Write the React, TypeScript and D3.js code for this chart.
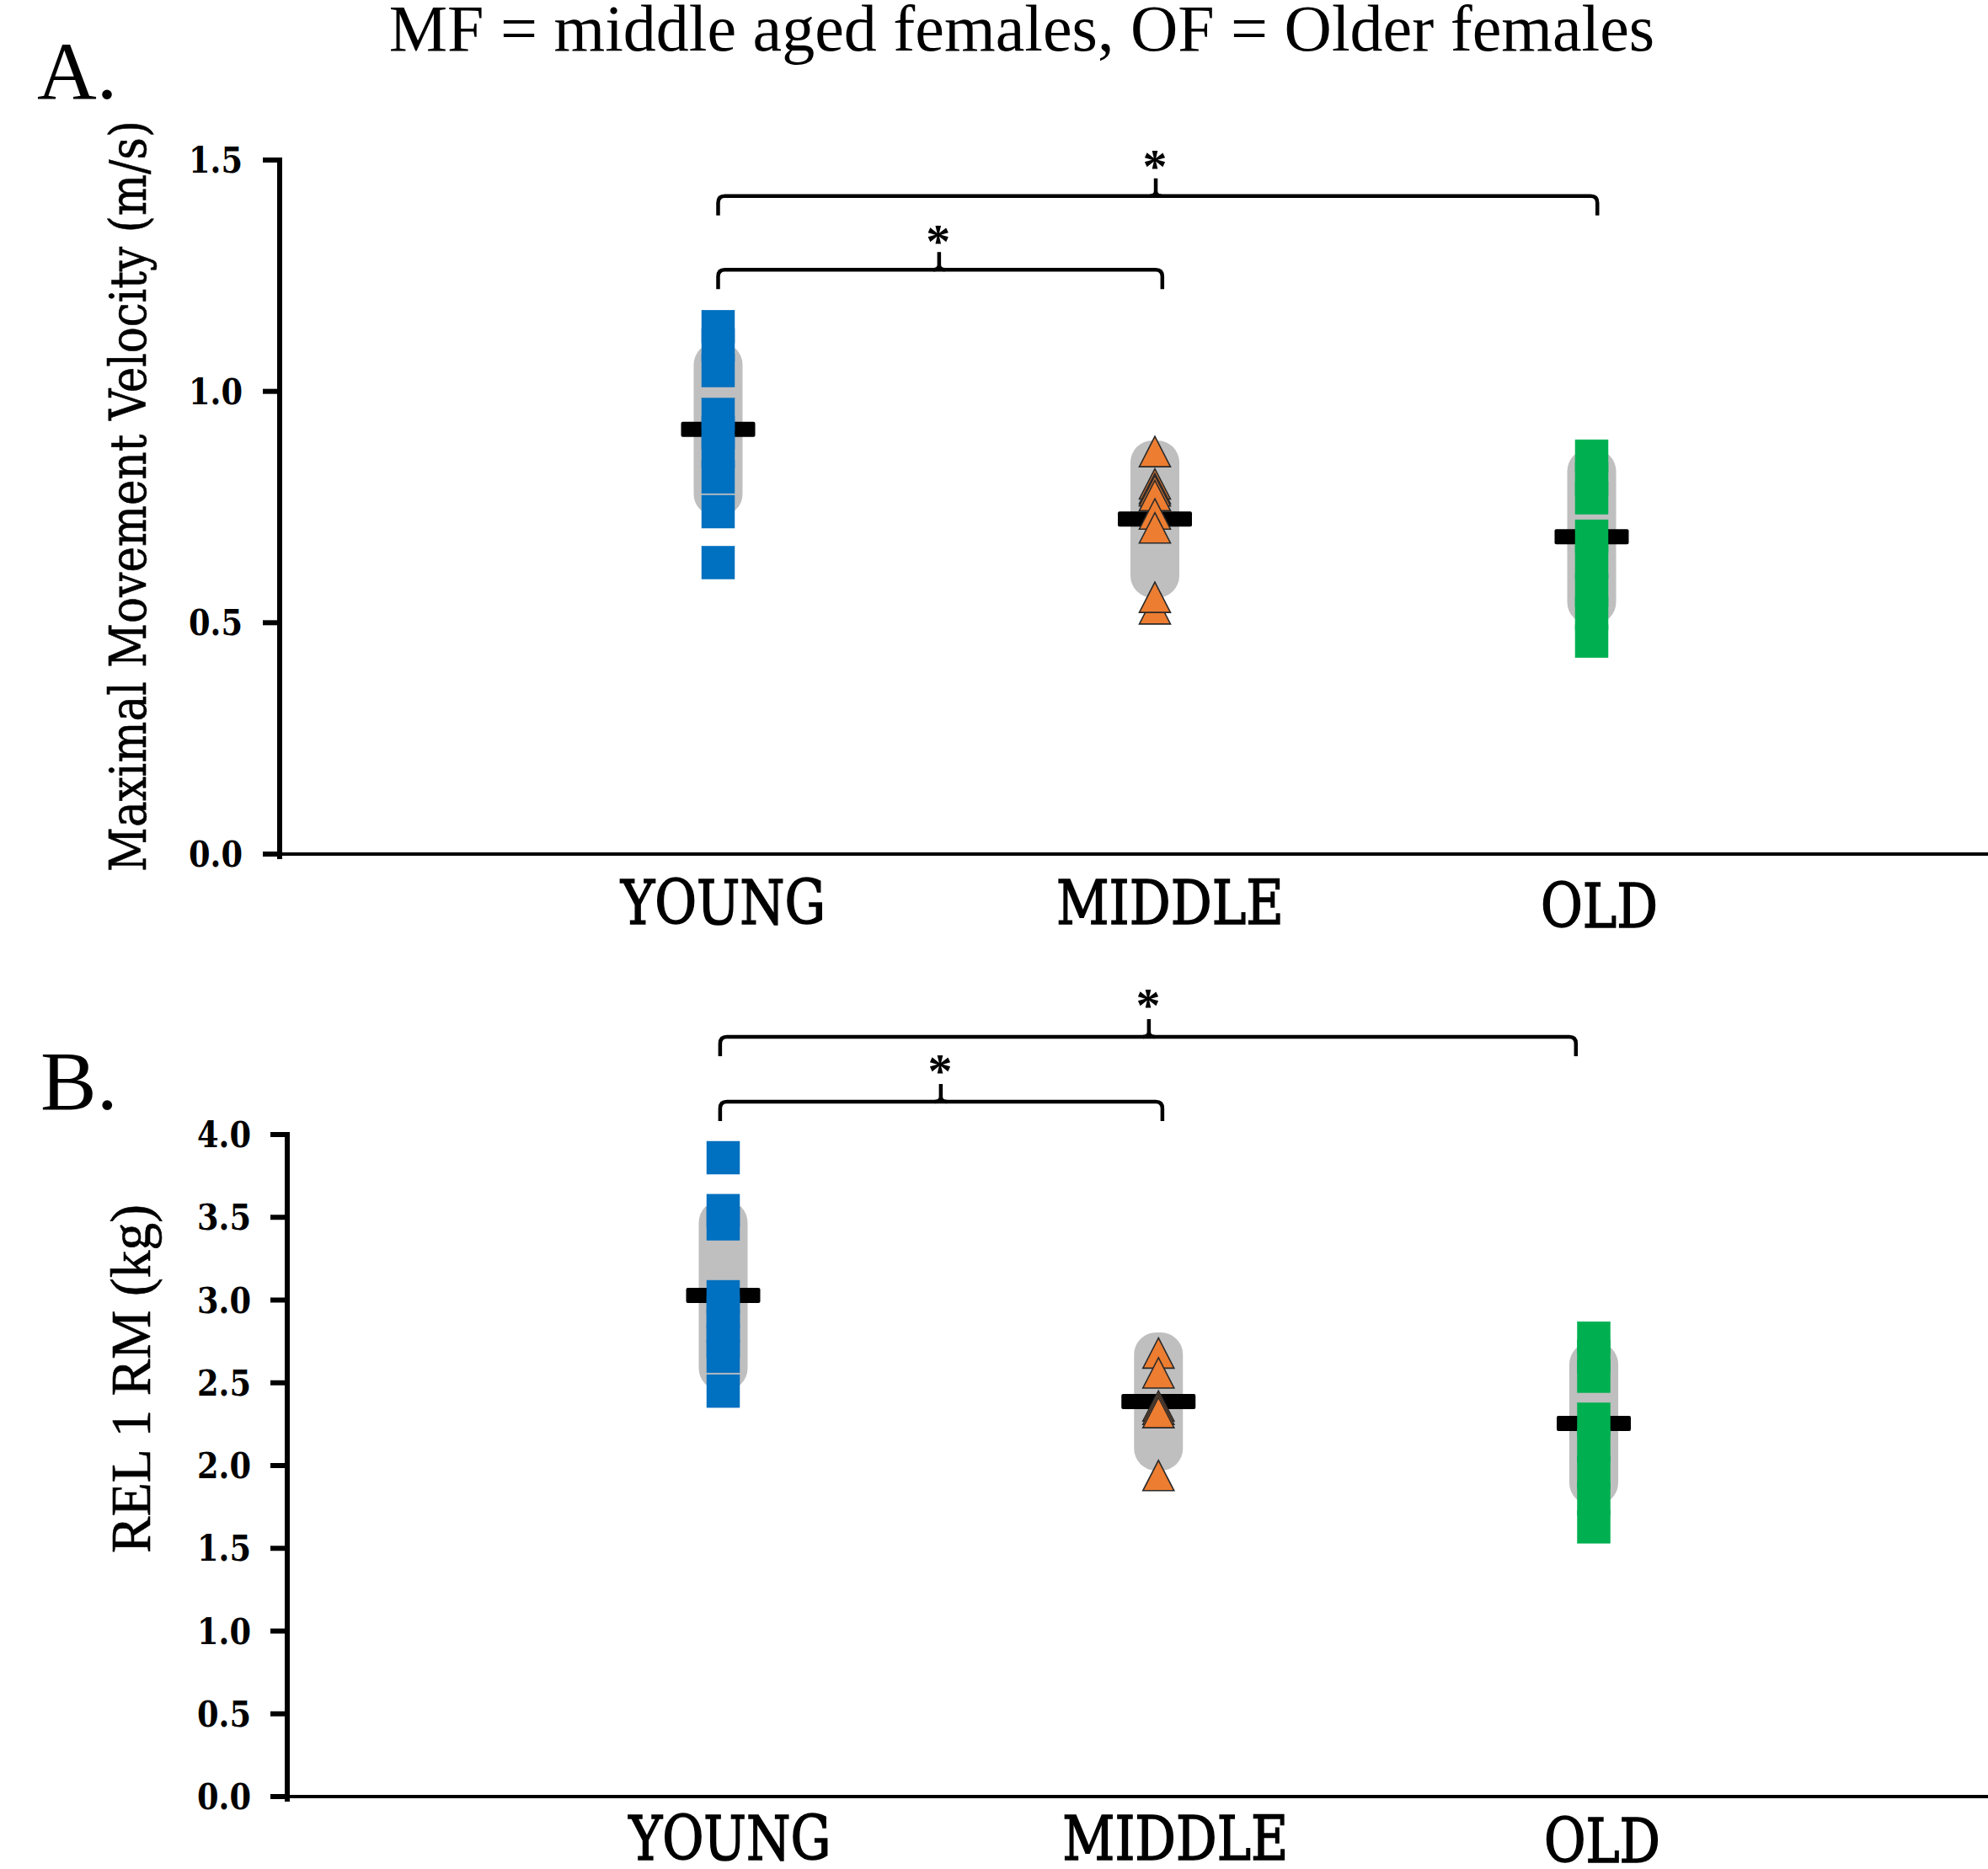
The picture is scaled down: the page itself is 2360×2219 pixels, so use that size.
import React from "react";
import * as d3 from "d3";

const categories = ["YOUNG", "MIDDLE", "OLD"];

// Panel A: Maximal Movement Velocity (m/s)
const velocityYoung = [1.14, 1.1, 1.045, 0.95, 0.91, 0.87, 0.815, 0.74, 0.63];
const velocityMiddle = [0.87, 0.8, 0.79, 0.785, 0.775, 0.735, 0.705, 0.53, 0.555];
const velocityOld = [0.86, 0.81, 0.77, 0.687, 0.63, 0.57, 0.52, 0.46];
const velocityMean = [0.918, 0.724, 0.686];
const velocitySD = [0.187, 0.17, 0.189];
const velocityTicks = [0, 0.5, 1.0, 1.5];

// Panel B: REL 1 RM (kg)
const rmYoung = [3.86, 3.54, 3.46, 3.02, 2.93, 2.84, 2.75, 2.66, 2.45];
const rmMiddle = [2.68, 2.56, 2.36, 2.34, 2.32, 1.94];
const rmOld = [2.77, 2.66, 2.54, 2.28, 2.12, 1.96, 1.8, 1.63];
const rmMean = [3.028, 2.387, 2.254];
const rmSD = [0.573, 0.417, 0.491];
const rmTicks = [0, 0.5, 1.0, 1.5, 2.0, 2.5, 3.0, 3.5, 4.0];

// significance brackets: from/to/notch in category index units, level in data units
const bracketsA = [
  { from: 0, to: 2.013, notch: 1.002, level: 1.422 },
  { from: 0, to: 1.017, notch: 0.506, level: 1.263 },
];
const bracketsB = [
  { from: -0.007, to: 1.959, notch: 0.978, level: 4.59 },
  { from: -0.007, to: 1.009, notch: 0.5, level: 4.198 },
];

const markerShapes = ["square", "triangle", "square"];
const fills = ["#0070C0", "#ED7D31", "#00B050"];
const strokes = ["#0070C0", "#2a2a2a", "#00B050"];

const fmt = d3.format(".1f");

function triPath(cx: number, cy: number, w: number, h: number) {
  const p = d3.path();
  p.moveTo(cx, cy - h / 2);
  p.lineTo(cx + w / 2, cy + h / 2);
  p.lineTo(cx - w / 2, cy + h / 2);
  p.closePath();
  return p.toString();
}

function bracketPath(x1: number, x2: number, y: number, drop: number, r: number) {
  const p = d3.path();
  p.moveTo(x1, y + drop);
  p.lineTo(x1, y + r);
  p.quadraticCurveTo(x1, y, x1 + r, y);
  p.lineTo(x2 - r, y);
  p.quadraticCurveTo(x2, y, x2, y + r);
  p.lineTo(x2, y + drop);
  return p.toString();
}

function notchPath(x: number, y: number, rise: number) {
  const p = d3.path();
  p.moveTo(x - 7, y);
  p.quadraticCurveTo(x, y, x, y - 6);
  p.lineTo(x, y - rise);
  p.moveTo(x + 7, y);
  p.quadraticCurveTo(x, y, x, y - 6);
  return p.toString();
}

type PanelProps = {
  yDomain: [number, number];
  yRange: [number, number];
  axisX: number;
  ticks: number[];
  xRange: [number, number];
  series: number[][];
  means: number[];
  sds: number[];
  brackets: { from: number; to: number; notch: number; level: number }[];
  labelBaseline: number[];
  labelDx: number[];
  labelWidths: number[];
  yTitle: string;
  yTitleX: number;
  yTitleSize: number;
  yTitleLength: number;
  yTitleCenter: number;
  yTitleFont: string;
  tickLabelRight: number;
  starRise: number[];
};

function Panel(props: PanelProps) {
  const y = d3.scaleLinear().domain(props.yDomain).range(props.yRange);
  const x = d3.scalePoint<string>().domain(categories).range(props.xRange);
  const xi = d3.scaleLinear().domain([0, categories.length - 1]).range(props.xRange);
  const y0 = y(props.yDomain[0]);
  const yTop = y(props.yDomain[1]);
  const sq = 39;
  const triW = 37;
  const triH = 36;
  return (
    <g>
      {/* y title */}
      <text
        transform={`translate(${props.yTitleX},${props.yTitleCenter}) rotate(-90)`}
        textAnchor="middle"
        fontFamily={props.yTitleFont}
        fontSize={props.yTitleSize}
        textLength={props.yTitleLength}
        lengthAdjust="spacingAndGlyphs"
        fill="#000"
        stroke="#000"
        strokeWidth={0.6}
      >
        {props.yTitle}
      </text>
      {/* axes */}
      <line x1={props.axisX} x2={props.axisX} y1={yTop - 3} y2={y0 + 6} stroke="#000" strokeWidth={6} />
      <line x1={props.axisX} x2={2360} y1={y0} y2={y0} stroke="#000" strokeWidth={4} />
      {props.ticks.map((t) => (
        <g key={t}>
          <line x1={props.axisX - 20} x2={props.axisX} y1={y(t)} y2={y(t)} stroke="#000" strokeWidth={6} />
          <text
            x={props.tickLabelRight}
            y={y(t) + 15}
            textAnchor="end"
            fontFamily="DejaVu Serif"
            fontWeight="bold"
            fontSize={42}
            textLength={64}
            lengthAdjust="spacingAndGlyphs"
            fill="#000"
          >
            {fmt(t)}
          </text>
        </g>
      ))}
      {/* category labels */}
      {categories.map((c, i) => (
        <text
          key={c}
          x={(x(c) as number) + props.labelDx[i]}
          y={props.labelBaseline[i]}
          textAnchor="middle"
          fontFamily="DejaVu Serif"
          fontSize={72}
          textLength={props.labelWidths[i]}
          lengthAdjust="spacingAndGlyphs"
          fill="#000"
          stroke="#000"
          strokeWidth={1.6}
        >
          {c}
        </text>
      ))}
      {/* SD rects, mean bars, markers */}
      {categories.map((c, i) => {
        const cx = x(c) as number;
        const top = y(props.means[i] + props.sds[i]);
        const bot = y(props.means[i] - props.sds[i]);
        const my = y(props.means[i]);
        return (
          <g key={c}>
            <rect x={cx - 29} y={top} width={58} height={bot - top} rx={26} ry={26} fill="#BFBFBF" />
            <rect x={cx - 44} y={my - 9} width={88} height={18} rx={2} fill="#000" />
            {props.series[i].map((v, j) =>
              markerShapes[i] === "square" ? (
                <rect
                  key={j}
                  x={cx - sq / 2}
                  y={y(v) - sq / 2}
                  width={sq}
                  height={sq}
                  fill={fills[i]}
                  stroke={strokes[i]}
                  strokeWidth={0.5}
                />
              ) : (
                <path
                  key={j}
                  d={triPath(cx, y(v), triW, triH)}
                  fill={fills[i]}
                  stroke={strokes[i]}
                  strokeWidth={1.6}
                  strokeLinejoin="miter"
                />
              )
            )}
          </g>
        );
      })}
      {/* significance brackets */}
      {props.brackets.map((b, k) => {
        const by = y(b.level);
        const nx = xi(b.notch);
        return (
          <g key={k}>
            <path d={bracketPath(xi(b.from), xi(b.to), by, 23, 8)} fill="none" stroke="#000" strokeWidth={4.5} />
            <path d={notchPath(nx, by, 21)} fill="none" stroke="#000" strokeWidth={4.5} />
            <text
              x={nx - 1}
              y={by - props.starRise[k]}
              textAnchor="middle"
              fontFamily="Liberation Serif"
              fontWeight="bold"
              fontSize={58}
              fill="#000"
            >
              *
            </text>
          </g>
        );
      })}
    </g>
  );
}

export default function App() {
  return (
    <svg
      width={2360}
      height={2219}
      viewBox="0 0 2360 2219"
      style={{ position: "absolute", left: 0, top: 0, background: "#fff" }}
    >
      <rect x={0} y={0} width={2360} height={2219} fill="#fff" />
      <text x={1213} y={60} textAnchor="middle" fontFamily="Liberation Serif" fontSize={78} fill="#000">
        MF = middle aged females, OF = Older females
      </text>
      <text x={44} y={117} fontFamily="Liberation Serif" fontSize={98} fill="#000">
        A.
      </text>
      <text x={48} y={1317} fontFamily="Liberation Serif" fontSize={100} fill="#000">
        B.
      </text>
      <Panel
        yDomain={[0, 1.5]}
        yRange={[1014, 190]}
        axisX={332}
        ticks={velocityTicks}
        xRange={[852.5, 1889.5]}
        series={[velocityYoung, velocityMiddle, velocityOld]}
        means={velocityMean}
        sds={velocitySD}
        brackets={bracketsA}
        labelBaseline={[1097, 1097, 1101]}
        labelDx={[6, 18, 9]}
        labelWidths={[243, 270, 139]}
        yTitle="Maximal Movement Velocity (m/s)"
        yTitleX={173}
        yTitleSize={60}
        yTitleLength={892}
        yTitleCenter={589}
        yTitleFont="DejaVu Serif"
        tickLabelRight={288}
        starRise={[16, 14]}
      />
      <Panel
        yDomain={[0, 4]}
        yRange={[2133, 1347]}
        axisX={341}
        ticks={rmTicks}
        xRange={[858.5, 1892]}
        series={[rmYoung, rmMiddle, rmOld]}
        means={rmMean}
        sds={rmSD}
        brackets={bracketsB}
        labelBaseline={[2208, 2208, 2211]}
        labelDx={[8, 20, 10]}
        labelWidths={[240, 268, 138]}
        yTitle="REL 1 RM (kg)"
        yTitleX={178}
        yTitleSize={68}
        yTitleLength={414}
        yTitleCenter={1637}
        yTitleFont="Liberation Serif"
        tickLabelRight={298}
        starRise={[18, 17]}
      />
    </svg>
  );
}
